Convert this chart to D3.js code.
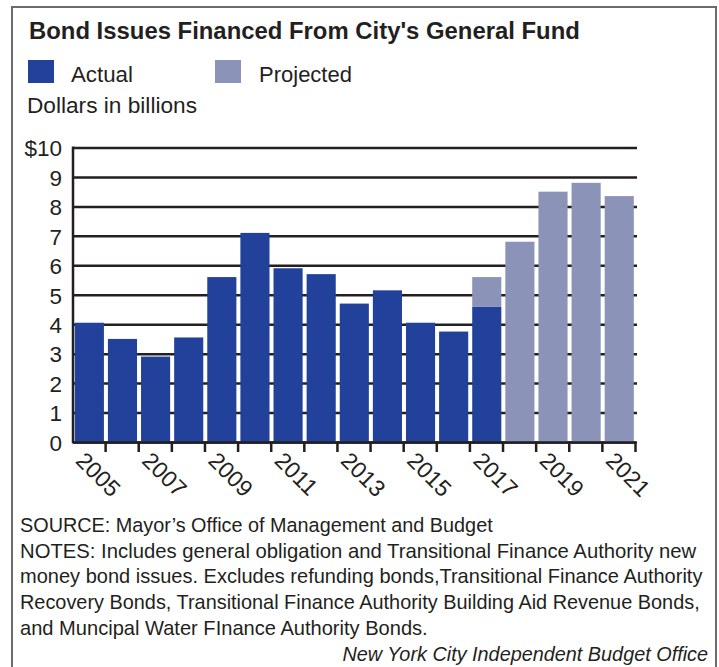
<!DOCTYPE html>
<html>
<head>
<meta charset="utf-8">
<script src="https://cdn.jsdelivr.net/npm/d3@7"></script>
<style>
  html, body { margin: 0; padding: 0; background: #fff; }
  svg { display: block; }
  text { font-family: "Liberation Sans", Arial, sans-serif; fill: #231f20; }
</style>
</head>
<body>
<svg id="chart" width="719" height="667"></svg>
<script>
// ---- Data ----
const years = [2005,2006,2007,2008,2009,2010,2011,2012,2013,2014,2015,2016,2017,2018,2019,2020,2021];
const actual    = [4.05,3.5,2.9,3.55,5.6,7.1,5.9,5.7,4.7,5.15,4.05,3.75,4.6,0,0,0,0];
const projected = [0,0,0,0,0,0,0,0,0,0,0,0,1.0,6.8,8.5,8.8,8.35];
const yTicks = [0,1,2,3,4,5,6,7,8,9,10];
const xLabelYears = [2005,2007,2009,2011,2013,2015,2017,2019,2021];
const seriesNames = ["Actual","Projected"];
const colors = ["#22419a","#8b93b9"];

const titleText = "Bond Issues Financed From City's General Fund";
const unitText = "Dollars in billions";
const footLines = [
  "SOURCE: Mayor\u2019s Office of Management and Budget",
  "NOTES: Includes general obligation and Transitional Finance Authority new",
  "money bond issues. Excludes refunding bonds,Transitional Finance Authority",
  "Recovery Bonds, Transitional Finance Authority Building Aid Revenue Bonds,",
  "and Muncipal Water FInance Authority Bonds."
];
const footWidths = [473, 677, 683, 680, 408];
const creditText = "New York City Independent Budget Office";

// ---- Setup ----
const svg = d3.select("#chart");

// place a text so that its rendered width equals `width` (horizontal condensing)
function fitText(parent, str, px, py, width, opts) {
  const t = parent.append("text").attr("x", 0).attr("y", 0).text(str);
  if (opts.size) t.attr("font-size", opts.size);
  if (opts.weight) t.attr("font-weight", opts.weight);
  if (opts.italic) t.attr("font-style", "italic");
  if (opts.anchor) t.attr("text-anchor", opts.anchor);
  const natural = t.node().getComputedTextLength();
  const k = Math.min(1.2, width / natural);
  t.attr("transform", `translate(${px},${py}) scale(${k},1)`);
  return t;
}

// frame
svg.append("rect")
  .attr("x", 12).attr("y", 7).attr("width", 704).attr("height", 700)
  .attr("fill", "none").attr("stroke", "#6b6b6b").attr("stroke-width", 2);

// title
fitText(svg, titleText, 29, 39, 551, {size: 23, weight: "bold"});

// legend
const legendPos = [{rx: 28, tx: 71, tw: 62}, {rx: 215, tx: 259, tw: 93}];
seriesNames.forEach((name, i) => {
  svg.append("rect").attr("x", legendPos[i].rx).attr("y", 60)
    .attr("width", 26).attr("height", 23).attr("fill", colors[i]);
  fitText(svg, name, legendPos[i].tx, 82, legendPos[i].tw, {size: 22});
});

fitText(svg, unitText, 27, 113, 170, {size: 22});

// ---- Scales ----
const x0 = 72, x1 = 635;
const y = d3.scaleLinear().domain([0, 10]).range([442, 147.5]);
const x = d3.scaleBand().domain(years).range([x0, x1]);
const xb = d3.scaleLinear().domain([years[0] - 0.5, years[years.length-1] + 0.5]).range([x0, x1]);

// gridlines + y labels
const yAxis = d3.axisLeft(y).tickValues(yTicks)
  .tickSize(-(x1 - x0 + 1)).tickPadding(11)
  .tickFormat(d => d === 10 ? "$10" : d);
const gy = svg.append("g").attr("transform", `translate(${x0 + 1},0)`).call(yAxis);
gy.select(".domain").remove();
gy.selectAll(".tick line").attr("stroke", "#231f20").attr("stroke-width", 2.5);
gy.selectAll(".tick text").attr("font-size", 22.5).attr("fill", "#231f20")
  .attr("font-family", '"Liberation Sans", Arial, sans-serif').attr("dy", "0.37em");

// bars (stacked)
const table = years.map((yr, i) => ({year: yr, Actual: actual[i], Projected: projected[i]}));
const stack = d3.stack().keys(seriesNames)(table);
svg.append("g").selectAll("g").data(stack).join("g")
  .attr("fill", (d, i) => colors[i])
  .selectAll("rect").data(d => d.filter(p => p[1] - p[0] > 0)).join("rect")
  .attr("x", d => x(d.data.year) + 2.8)
  .attr("width", x.bandwidth() - 4)
  .attr("y", d => y(d[1]))
  .attr("height", d => y(d[0]) - y(d[1]));

// y axis line
svg.append("line").attr("x1", x0 + 1).attr("x2", x0 + 1).attr("y1", y(10) - 1).attr("y2", y(0) + 1)
  .attr("stroke", "#231f20").attr("stroke-width", 2.5);

// x axis ticks at band boundaries
const boundaries = years.map(v => v + 0.5);
const xAxis = d3.axisBottom(xb).tickValues(boundaries).tickSize(10).tickSizeOuter(0).tickFormat("");
const gx = svg.append("g").attr("transform", `translate(0,${y(0)})`).call(xAxis);
gx.select(".domain").attr("stroke", "#231f20").attr("stroke-width", 2.5);
gx.selectAll(".tick line").attr("stroke", "#231f20").attr("stroke-width", 2.5);

// x labels (rotated)
svg.append("g").selectAll("text").data(xLabelYears).join("text")
  .attr("transform", d => `translate(${x(d) + x.bandwidth() / 2 - 14},462) rotate(45)`)
  .attr("font-size", 23)
  .text(d => d);

// footer
const gf = svg.append("g");
footLines.forEach((line, i) => {
  fitText(gf, line, 20, 532 + i * 25.7, footWidths[i], {size: 20.5});
});
fitText(svg, creditText, 708, 661, 366, {size: 20.5, italic: true, anchor: "end"});
</script>
</body>
</html>
